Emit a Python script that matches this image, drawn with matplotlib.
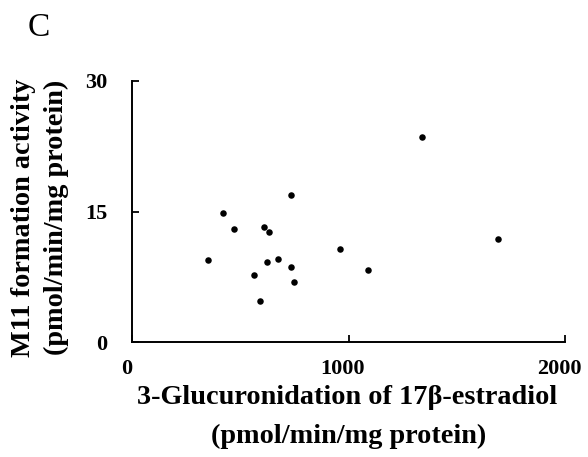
import matplotlib
matplotlib.use("Agg")
import matplotlib.pyplot as plt
from matplotlib.transforms import ScaledTranslation

glucuronidation = [350, 421, 470, 561, 590, 609, 630, 623, 673, 734, 734, 746, 959, 1090, 1341, 1689]
m11_activity = [9.43, 14.83, 12.99, 7.70, 4.75, 13.22, 12.6, 9.2, 9.54, 16.9, 8.62, 6.86, 10.65, 8.31, 23.53, 11.87]
x_ticks = [0, 1000, 2000]
y_ticks = [0, 15, 30]

plt.rcParams['font.family'] = ['Liberation Serif', 'DejaVu Serif']

W, H = 588, 457
fig = plt.figure(figsize=(W/100, H/100), dpi=100)
ax = fig.add_axes([132.3/W, 1-342/H, (565-132.3)/W, (342-81)/H])
ax.scatter(glucuronidation, m11_activity, s=22, color='black', zorder=3, linewidths=0)
ax.set_xlim(0, 2000)
ax.set_ylim(0, 30)
ax.tick_params(axis='x', direction='in', length=5, width=1.3, pad=12, labelsize=16)
ax.tick_params(axis='y', direction='in', length=5, width=1.3, pad=18, labelsize=16)
ax.set_xticks(x_ticks)
ax.set_yticks(y_ticks)
ax.set_xticklabels([str(t) for t in x_ticks])
ax.set_yticklabels([str(t) for t in y_ticks])
shift = ScaledTranslation(-6/100, 0, fig.dpi_scale_trans)
for lab in ax.get_xticklabels():
    lab.set_fontweight('bold')
    lab.set_transform(lab.get_transform() + shift)
for lab in ax.get_yticklabels():
    lab.set_fontweight('bold')
for s in ['top', 'right']:
    ax.spines[s].set_visible(False)
for s in ['left', 'bottom']:
    ax.spines[s].set_linewidth(1.4)

fs = 20.3
fig.text(347.5/W, 1-404/H, '3-Glucuronidation of 17β-estradiol', ha='center', va='baseline',
         fontsize=fs, fontweight='bold')
fig.text(348.5/W, 1-443/H, '(pmol/min/mg protein)', ha='center', va='baseline',
         fontsize=fs, fontweight='bold')
fig.text(23.5/W, 1-217.5/H, 'M11 formation activity', ha='center', va='center',
         fontsize=fs, fontweight='bold', rotation=90)
fig.text(56/W, 1-217.5/H, '(pmol/min/mg protein)', ha='center', va='center',
         fontsize=fs, fontweight='bold', rotation=90)
fig.text(39/W, 1-28/H, 'C', ha='center', va='center', fontsize=24)

fig.savefig('out.png', dpi=100)
